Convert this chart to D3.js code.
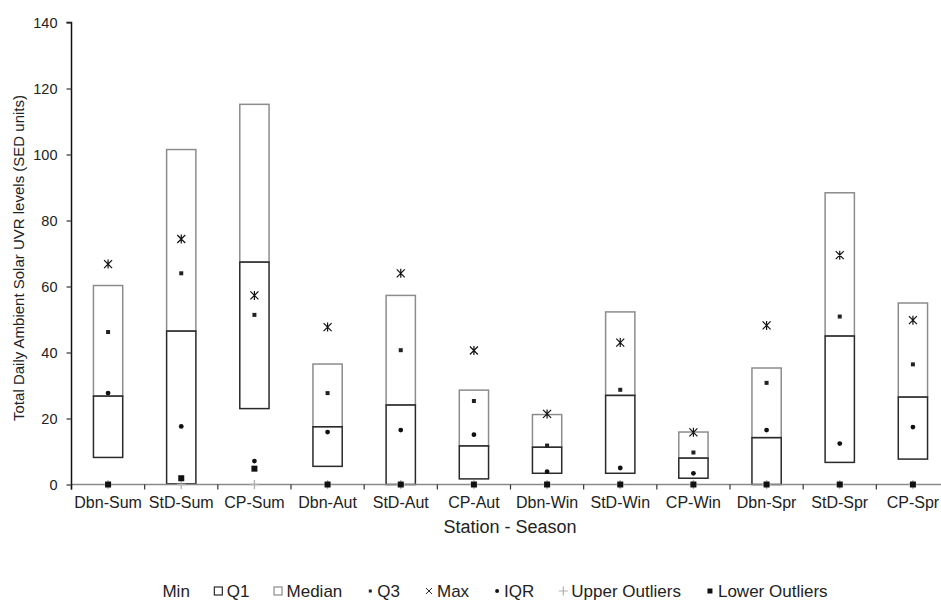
<!DOCTYPE html>
<html>
<head>
<meta charset="utf-8">
<script src="https://cdn.jsdelivr.net/npm/d3@7"></script>
<style>
  html, body { margin: 0; padding: 0; background: #fff; }
  svg { display: block; font-family: "Liberation Sans", Arial, sans-serif; }
</style>
</head>
<body>
<svg id="chart" width="941" height="600"></svg>
<script>
// Station - season categories
const categories = ["Dbn-Sum", "StD-Sum", "CP-Sum", "Dbn-Aut", "StD-Aut", "CP-Aut",
                    "Dbn-Win", "StD-Win", "CP-Win", "Dbn-Spr", "StD-Spr", "CP-Spr"];

// Stacked column series: invisible base, lower box, upper box
const minVals    = [8.2, 0.2, 23.0, 5.5, 0.0, 1.7, 3.4, 3.4, 1.9, 0.0, 6.7, 7.7];
const q1Vals     = [18.6, 46.3, 44.4, 12.0, 24.1, 10.0, 7.9, 23.6, 6.1, 14.2, 38.3, 18.8];
const medianVals = [33.5, 55.0, 47.8, 19.0, 33.2, 16.9, 9.9, 25.3, 7.9, 21.1, 43.4, 28.5];

// Marker series
const q3Vals        = [46.2, 64.0, 51.4, 27.7, 40.7, 25.3, 11.8, 28.7, 9.7, 30.8, 50.9, 36.4];
const maxVals       = [66.8, 74.4, 57.3, 47.7, 64.0, 40.6, 21.4, 43.0, 15.8, 48.2, 69.5, 49.8];
const iqrVals       = [27.7, 17.6, 7.1, 15.9, 16.5, 15.1, 3.9, 5.0, 3.4, 16.5, 12.4, 17.4];
const upperOutliers = [0, 0, 0, 0, 0, 0, 0, 0, 0, 0, 0, 0];
const lowerOutliers = [0, 1.9, 4.8, 0, 0, 0, 0, 0, 0, 0, 0, 0];

const yTicks = [0, 20, 40, 60, 80, 100, 120, 140];

const legendItems = ["Min", "Q1", "Median", "Q3", "Max", "IQR", "Upper Outliers", "Lower Outliers"];

const svg = d3.select("#chart");

const x = d3.scaleBand().domain(categories).range([71.5, 949.5])
  .paddingInner(0.6).paddingOuter(0.3);
const y = d3.scaleLinear().domain([0, 140]).range([484.5, 22.5]);

// table built for the stack layout
const table = categories.map((c, i) => ({
  cat: c, Min: minVals[i], Q1: q1Vals[i], Median: medianVals[i]
}));
const stacked = d3.stack().keys(["Min", "Q1", "Median"])(table);

// boxes: upper (gray) first, lower (dark) on top
const boxStyle = { Q1: "#2a2a2a", Median: "#8c8c8c" };
["Median", "Q1"].forEach(key => {
  const layer = stacked.find(s => s.key === key);
  svg.append("g").selectAll("rect").data(layer).join("rect")
    .attr("x", d => x(d.data.cat))
    .attr("width", x.bandwidth())
    .attr("y", d => y(d[1]))
    .attr("height", d => y(d[0]) - y(d[1]))
    .attr("fill", "none")
    .attr("stroke", boxStyle[key])
    .attr("stroke-width", 1.5);
});

// x axis line and category separators
const x0 = x.range()[0];
svg.append("line")
  .attr("x1", x0).attr("x2", x.range()[1])
  .attr("y1", y(0)).attr("y2", y(0))
  .attr("stroke", "#8a8a8a").attr("stroke-width", 1.5);
svg.append("g").selectAll("line")
  .data(d3.range(categories.length + 1))
  .join("line")
  .attr("x1", i => x0 + i * x.step()).attr("x2", i => x0 + i * x.step())
  .attr("y1", y(0)).attr("y2", y(0) + 5)
  .attr("stroke", "#333").attr("stroke-width", 1.2);

// category labels
const xAxis = svg.append("g")
  .attr("transform", `translate(0,${y(0)})`)
  .call(d3.axisBottom(x).tickSize(0).tickPadding(12));
xAxis.select(".domain").remove();
xAxis.selectAll("text").attr("font-size", 16).attr("fill", "#222")
  .attr("font-family", "Liberation Sans, Arial, sans-serif");

// y axis
const yAxis = svg.append("g")
  .attr("transform", `translate(${x0},0)`)
  .call(d3.axisLeft(y).tickValues(yTicks).tickSize(5).tickPadding(9));
yAxis.select(".domain").attr("stroke", "#111").attr("stroke-width", 1.5)
  .attr("d", `M-5,${y(140)}H0V${y(0) + 5}`);
yAxis.selectAll(".tick line").attr("stroke", "#333").attr("stroke-width", 1.2);
yAxis.selectAll("text").attr("font-size", 14.5).attr("fill", "#222")
  .attr("font-family", "Liberation Sans, Arial, sans-serif");

// marker shapes
const shapes = {
  max: "M-4,-4L4,4M-4,4L4,-4M0,-4.5V4.5",
  plus: "M-4.5,0H4.5M0,-4.5V4.5"
};
const cx = c => x(c) + x.bandwidth() / 2;

// upper outliers (gray +)
svg.append("g").selectAll("path").data(upperOutliers).join("path")
  .attr("transform", (v, i) => `translate(${cx(categories[i])},${y(v)})`)
  .attr("d", shapes.plus).attr("stroke", "#b0b0b0").attr("stroke-width", 1.3).attr("fill", "none");

// lower outliers (black squares)
svg.append("g").selectAll("rect").data(lowerOutliers).join("rect")
  .attr("x", (v, i) => cx(categories[i]) - 3).attr("y", v => y(v) - 3)
  .attr("width", 6).attr("height", 6).attr("fill", "#111");

// Q3 (small square)
svg.append("g").selectAll("rect").data(q3Vals).join("rect")
  .attr("x", (v, i) => cx(categories[i]) - 2).attr("y", v => y(v) - 2)
  .attr("width", 4).attr("height", 4).attr("fill", "#222");

// Max (star)
svg.append("g").selectAll("path").data(maxVals).join("path")
  .attr("transform", (v, i) => `translate(${cx(categories[i])},${y(v)})`)
  .attr("d", shapes.max).attr("stroke", "#111").attr("stroke-width", 1.2).attr("fill", "none");

// IQR (dot)
svg.append("g").selectAll("circle").data(iqrVals).join("circle")
  .attr("cx", (v, i) => cx(categories[i])).attr("cy", v => y(v))
  .attr("r", 2.4).attr("fill", "#111");

// axis titles
svg.append("text")
  .attr("x", 510).attr("y", 533)
  .attr("text-anchor", "middle").attr("font-size", 18).attr("fill", "#222")
  .text("Station - Season");
svg.append("text")
  .attr("transform", "translate(24,258) rotate(-90)")
  .attr("text-anchor", "middle").attr("font-size", 15).attr("fill", "#222")
  .text("Total Daily Ambient Solar UVR levels (SED units)");

// legend
const legend = svg.append("g");
const legendY = 597;
const markerW = { Min: 0, Q1: 10, Median: 10, Q3: 8, Max: 10, IQR: 8, "Upper Outliers": 10, "Lower Outliers": 10 };
let lx = 0;
const gap = 24;
legendItems.forEach(name => {
  const g = legend.append("g").attr("transform", `translate(${lx},0)`);
  const mw = markerW[name];
  const my = legendY - 6;
  if (name === "Q1" || name === "Median") {
    g.append("rect").attr("x", 0.5).attr("y", my - 4).attr("width", 8).attr("height", 8)
      .attr("fill", "none").attr("stroke", name === "Q1" ? "#2a2a2a" : "#8c8c8c").attr("stroke-width", 1.2);
  } else if (name === "Q3") {
    g.append("rect").attr("x", 2.5).attr("y", my - 1.5).attr("width", 3).attr("height", 3).attr("fill", "#222");
  } else if (name === "Max") {
    g.append("path").attr("transform", `translate(5,${my}) scale(0.75)`).attr("d", "M-4,-4L4,4M-4,4L4,-4")
      .attr("stroke", "#111").attr("stroke-width", 1.2).attr("fill", "none");
  } else if (name === "IQR") {
    g.append("circle").attr("cx", 4).attr("cy", my).attr("r", 2).attr("fill", "#111");
  } else if (name === "Upper Outliers") {
    g.append("path").attr("transform", `translate(5,${my})`).attr("d", shapes.plus)
      .attr("stroke", "#b0b0b0").attr("stroke-width", 1.2);
  } else if (name === "Lower Outliers") {
    g.append("rect").attr("x", 2.5).attr("y", my - 2.5).attr("width", 5).attr("height", 5).attr("fill", "#111");
  }
  const t = g.append("text").attr("x", mw + (mw ? 3 : 0)).attr("y", legendY)
    .attr("font-size", 17).attr("fill", "#222").text(name);
  const w = mw + (mw ? 3 : 0) + t.node().getComputedTextLength();
  lx += w + gap;
});
const totalW = lx - gap;
legend.attr("transform", `translate(${495 - totalW / 2},0)`);
</script>
</body>
</html>
